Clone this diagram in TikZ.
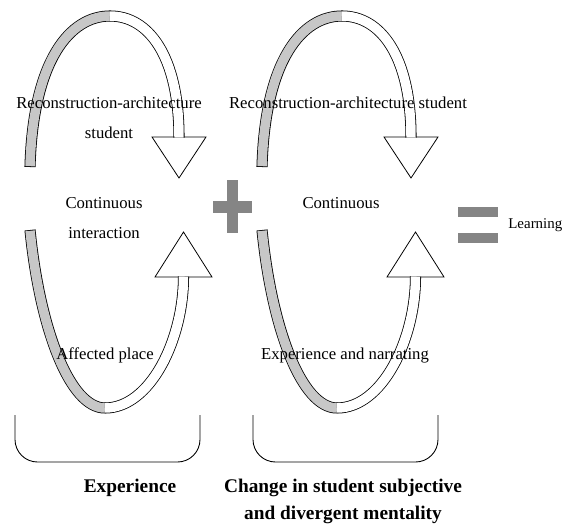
\documentclass[tikz,border=0pt]{standalone}
\usepackage{fontspec}
\setmainfont{Liberation Serif}
\usetikzlibrary{positioning}
\tikzset{grayband/.style={draw=black!22, line width=5.4pt, shorten <=0.45pt,
                          preaction={draw=black, line width=6.3pt, shorten <=0pt}},
         whiteband/.style={draw=white, line width=5.4pt,
                          preaction={draw=black, line width=6.3pt}},
         tiphead/.style={draw, fill=white, line width=0.45pt},
         sign/.style={black!48, line width=6.5pt},
         txt/.style={font=\fontsize{9.5}{17}\selectfont, align=center, inner sep=0pt},
         bold/.style={font=\fontsize{11}{15.3}\selectfont\bfseries, align=center, inner sep=0pt},
         brace/.style={draw, line width=0.5pt, rounded corners=0.45cm},
        }

\begin{document}
\begin{tikzpicture}
        \useasboundingbox (0,0) rectangle (11.26,-10.56);
        % the two cycles, the right one shifted
        \foreach \s in {0,4.64}{
        \begin{scope}[xshift=\s cm]
        \coordinate (upstart) at (0.60,-3.34);
        \coordinate (uptop) at (2.20,-0.32);
        \coordinate (hd1) at (3.58,-2.74);
        \coordinate (lowstart) at (0.60,-4.60);
        \coordinate (lowbot) at (2.10,-8.16);
        \coordinate (hd2) at (3.67,-5.54);

        \draw[tiphead] (hd1) ++(-0.54,0) -- ++(1.08,0) -- ++(-0.54,-0.82) -- cycle;
        \draw[tiphead] (hd2) ++(-0.57,0) -- ++(1.14,0) -- ++(-0.57,0.90) -- cycle;

        \draw[grayband] (upstart) .. controls (0.66,-1.20) and (1.40,-0.32) .. (uptop);
        \draw[whiteband] (uptop) .. controls (2.96,-0.32) and (3.58,-1.10) .. ([yshift=-0.3pt]hd1);
        \draw[grayband] (lowstart) .. controls (0.80,-6.60) and (1.40,-8.16) .. (lowbot);
        \draw[whiteband] (lowbot) .. controls (3.00,-8.16) and (3.67,-6.80) .. ([yshift=0.3pt]hd2);
        \end{scope}}

        % plus and equal
        \draw[sign] (4.26,-4.14) -- (5.04,-4.14);
        \draw[sign] (4.65,-3.60) -- (4.65,-4.66);
        \draw[sign, line width=5.5pt] (9.16,-4.24) -- (9.96,-4.24);
        \draw[sign, line width=5.5pt] (9.16,-4.76) -- (9.96,-4.76);

        % braces
        \draw[brace] (0.30,-8.30) -- (0.30,-9.24) -- (4.00,-9.24) -- (4.00,-8.30);
        \draw[brace] (5.06,-8.30) -- (5.06,-9.24) -- (8.76,-9.24) -- (8.76,-8.30);

        \node[txt](recl)at(2.18,-2.36){Reconstruction-architecture\\student};
        \node[txt](contl)at(2.08,-4.36){Continuous\\interaction};
        \node[txt](place)at(2.10,-7.10){Affected place};
        \node[txt](recr)at(6.96,-2.06){Reconstruction-architecture student};
        \node[txt](contr)at(6.82,-4.06){Continuous};
        \node[txt](narr)at(6.90,-7.10){Experience and narrating};
        \node[txt, font=\fontsize{8.5}{10}\selectfont, anchor=west](learn)at(10.16,-4.50){Learning};
        \node[bold](exp)at(2.60,-9.76){Experience};
        \node[bold](change)at(6.86,-10.02){Change in student subjective\\and divergent mentality};
\end{tikzpicture}
\end{document}
